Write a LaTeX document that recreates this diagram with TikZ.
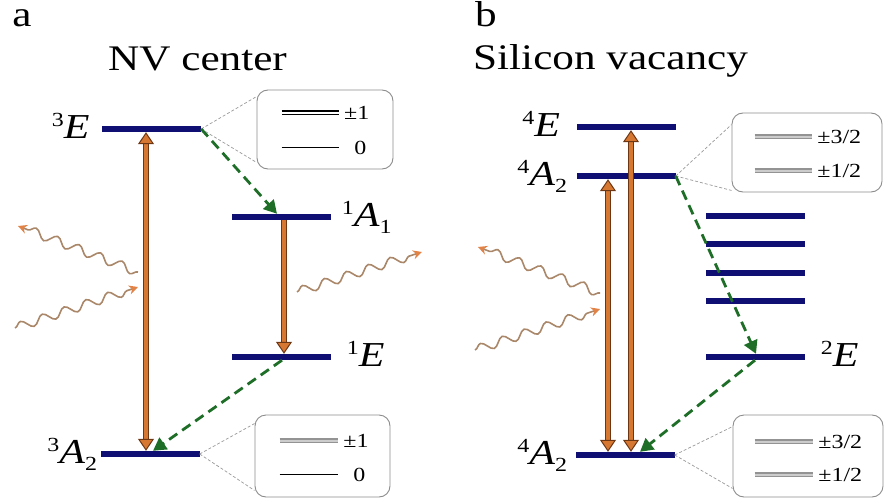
\documentclass[tikz,border=0pt]{standalone}
\usepackage{fontspec}
\setmainfont{Liberation Serif}
\usetikzlibrary{arrows.meta, positioning, decorations.pathmorphing}
\definecolor{navy}{RGB}{15,15,115}
\definecolor{pumporange}{RGB}{215,120,50}
\definecolor{pumpedge}{RGB}{110,55,20}
\definecolor{decaygreen}{RGB}{30,110,40}
\definecolor{wavebrown}{RGB}{170,135,105}
\definecolor{waveorange}{RGB}{225,130,70}
\newcommand\hwide[1]{\scalebox{1.2}[1]{#1}}
\newcommand\term[3]{\hwide{\raisebox{12pt}{\fontsize{20}{20}\selectfont #1}\textit{#2}\raisebox{-7pt}{\fontsize{20}{20}\selectfont #3}}}

\begin{document}
\begin{tikzpicture}[
  x=1pt, y=-1pt,
  level/.style={fill=navy, minimum width=99pt, minimum height=6pt, inner sep=0pt},
  term/.style={inner sep=0pt, font=\fontsize{35}{37}\selectfont},
  title/.style={inner sep=0pt, font=\fontsize{36}{40}\selectfont},
  pump/.style={draw=pumpedge, double=pumporange, double distance=4.2pt, line width=0.9pt,
               >={Triangle[length=12pt, width=16pt, fill=pumporange, line width=1pt]}},
  decay/.style={draw=decaygreen, line width=2.8pt, dash pattern=on 10pt off 6pt,
                -{Triangle[length=13pt, width=14pt]}},
  zoomline/.style={draw=gray!80, line width=0.7pt, dash pattern=on 3pt off 2pt},
  zoombox/.style={draw=gray!90, line width=0.9pt, rounded corners=11pt, inner sep=0pt},
  sub/.style={line width=1.4pt},
  subdbl/.style={double, double distance=2pt, line width=1.2pt},
  subgray/.style={draw=gray!85, double=gray!40, double distance=2pt, line width=1.6pt},
  sublbl/.style={inner sep=0pt, anchor=west, font=\fontsize{20}{22}\selectfont},
  photon/.style={decorate, decoration={snake, amplitude=4.5pt, segment length=23pt, post length=7pt},
                 draw=wavebrown, line width=1.6pt, -{Stealth[length=9pt, width=9pt, color=waveorange]}}
]
  \useasboundingbox (0,0) rectangle (896,500);

  % titles
  \node[title, anchor=base] (panelA) at (22,27) {\hwide{a}};
  \node[title, anchor=base] (titleA) at (197.5,71) {\hwide{NV center}};
  \node[title, anchor=base] (panelB) at (486,27) {\hwide{b}};
  \node[title, anchor=base west] (titleB) at (473,70) {\hwide{Silicon vacancy}};

  % fine structure boxes
  \node[zoombox, minimum width=136pt, minimum height=79pt] (fineE) at (325,129.5) {};
  \node[zoombox, minimum width=135pt, minimum height=82pt] (fineA) at (322.5,456) {};
  \node[zoombox, minimum width=150pt, minimum height=79pt] (fineAup) at (807,152.5) {};
  \node[zoombox, minimum width=150pt, minimum height=82pt] (fineAq) at (808,456) {};

  % NV center levels
  \node[level] (Etrip) at (151.5,129) {};
  \node[level] (Asing) at (281,217) {};
  \node[level] (Esing) at (281,357) {};
  \node[level] (Atrip) at (150,454) {};
  \node[term, left=12pt of Etrip] (EtripL) {\term{3}{E}{}};
  \node[term, right=11pt of Asing] (AsingL) {\term{1}{A}{1}};
  \node[term, right=16pt of Esing] (EsingL) {\term{1}{E}{}};
  \node[term, left=3pt of Atrip] (AtripL) {\term{3}{A}{2}};

  % silicon vacancy levels
  \node[level] (Equad) at (626,127) {};
  \node[level] (Aquadup) at (626,176) {};
  \foreach \y [count=\i] in {216,244,273,301}
    \node[level] (band\i) at (755,\y) {};
  \node[level] (Edbl) at (755,357) {};
  \node[level] (Aquad) at (625,455) {};
  \node[term, left=16pt of Equad] (EquadL) {\term{4}{E}{}};
  \node[term, left=9pt of Aquadup] (AquadupL) {\term{4}{A}{2}};
  \node[term, left=8pt of Aquad] (AquadL) {\term{4}{A}{2}};
  \node[term, right=16pt of Edbl] (EdblL) {\term{2}{E}{}};

  % zoom lines
  \draw[zoomline] (Etrip.east) -- ([yshift=-7pt]fineE.north west);
  \draw[zoomline] (Etrip.east) -- ([yshift=7pt]fineE.south west);
  \draw[zoomline] (Atrip.east) -- ([yshift=-9pt]fineA.north west);
  \draw[zoomline] (Atrip.east) -- ([yshift=7pt]fineA.south west);
  \draw[zoomline] (Aquadup.east) -- ([yshift=-12pt]fineAup.north west);
  \draw[zoomline] (Aquadup.east) -- ([yshift=2pt]fineAup.south west);
  \draw[zoomline] (Aquad.east) -- ([yshift=-12pt]fineAq.north west);
  \draw[zoomline] (Aquad.east) -- ([yshift=9pt]fineAq.south west);

  % sublevels
  \draw[subdbl] ([shift={(25,23)}]fineE.north west) -- ++(57,0) node[sublbl, right=5pt] (pmOneE) {\hwide{±1}};
  \draw[sub] ([shift={(25,58)}]fineE.north west) -- ++(57,0) node[sublbl, right=15pt] (zeroE) {\hwide{0}};
  \draw[subgray] ([shift={(25,26)}]fineA.north west) -- ++(58,0) node[sublbl, right=5pt] (pmOneA) {\hwide{±1}};
  \draw[sub] ([shift={(25,60)}]fineA.north west) -- ++(58,0) node[sublbl, right=15pt] (zeroA) {\hwide{0}};
  \draw[subgray] ([shift={(23,24)}]fineAup.north west) -- ++(57,0) node[sublbl, right=5pt] (thrHalfU) {\hwide{±3/2}};
  \draw[subgray] ([shift={(23,58)}]fineAup.north west) -- ++(57,0) node[sublbl, right=5pt] (oneHalfU) {\hwide{±1/2}};
  \draw[subgray] ([shift={(22,27)}]fineAq.north west) -- ++(58,0) node[sublbl, right=5pt] (thrHalfL) {\hwide{±3/2}};
  \draw[subgray] ([shift={(22,60)}]fineAq.north west) -- ++(58,0) node[sublbl, right=5pt] (oneHalfL) {\hwide{±1/2}};

  % optical transitions
  \draw[pump, <->] ([xshift=-4pt]Atrip.north) -- ([xshift=-5.5pt]Etrip.south);
  \draw[pump, ->] ([xshift=3pt]Asing.south) -- ([xshift=3pt]Esing.north);
  \draw[pump, <->] ([xshift=-17pt]Aquad.north) -- ([xshift=-18pt]Aquadup.south);
  \draw[pump, <->] ([xshift=6pt]Aquad.north) -- ([xshift=5pt]Equad.south);

  % non-radiative decay
  \draw[decay] (Etrip.east) -- ([xshift=-4pt]Asing.north);
  \draw[decay] ([xshift=1pt]Esing.south) -- ([xshift=3pt]Atrip.north);
  \draw[decay] (Aquadup.east) -- ([xshift=1pt]Edbl.north);
  \draw[decay] (Edbl.south) -- ([xshift=15pt]Aquad.north);

  % photons
  \coordinate (phA1s) at (138,272);  \coordinate (phA1e) at (18,226);
  \coordinate (phA2s) at (15,328);   \coordinate (phA2e) at (138,287);
  \coordinate (phA3s) at (297,292);  \coordinate (phA3e) at (422,252);
  \coordinate (phB1s) at (600,293);  \coordinate (phB1e) at (478,247);
  \coordinate (phB2s) at (475,350);  \coordinate (phB2e) at (600,309);
  \foreach \p in {A1,A2,A3,B1,B2}
    \draw[photon] (ph\p s) -- (ph\p e);
\end{tikzpicture}
\end{document}
